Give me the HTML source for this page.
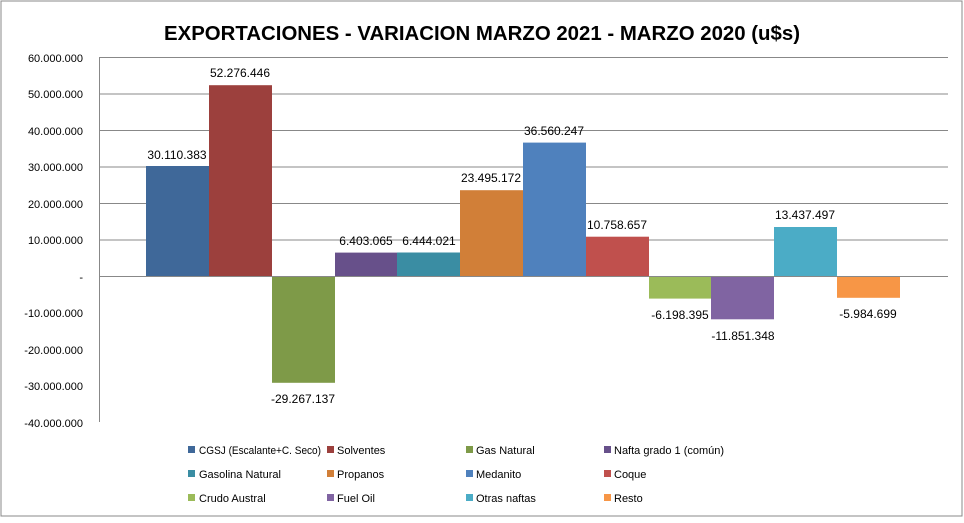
<!DOCTYPE html>
<html><head><meta charset="utf-8"><style>
body{margin:0;background:#fff;}
text{font-family:"Liberation Sans",sans-serif;}
</style></head><body>
<svg width="964" height="518" xmlns="http://www.w3.org/2000/svg">
<rect x="1" y="1" width="961" height="515" fill="#fff" stroke="#888" stroke-width="1"/>
<text x="482" y="40" text-anchor="middle" font-size="20" font-weight="bold" fill="#000" textLength="636" lengthAdjust="spacingAndGlyphs">EXPORTACIONES - VARIACION MARZO 2021 - MARZO 2020 (u$s)</text>
<g stroke="#888" stroke-width="1">
<line x1="99.5" y1="57.5" x2="948" y2="57.5"/>
<line x1="99.5" y1="94" x2="948" y2="94"/>
<line x1="99.5" y1="130.5" x2="948" y2="130.5"/>
<line x1="99.5" y1="167" x2="948" y2="167"/>
<line x1="99.5" y1="203.5" x2="948" y2="203.5"/>
<line x1="99.5" y1="240" x2="948" y2="240"/>
<line x1="99.5" y1="57" x2="99.5" y2="422"/>
</g>
<g font-size="11" fill="#000" text-anchor="end">
<text x="83" y="62">60.000.000</text>
<text x="83" y="98">50.000.000</text>
<text x="83" y="135">40.000.000</text>
<text x="83" y="171">30.000.000</text>
<text x="83" y="208">20.000.000</text>
<text x="83" y="244">10.000.000</text>
<text x="83" y="281">-</text>
<text x="83" y="317">-10.000.000</text>
<text x="83" y="354">-20.000.000</text>
<text x="83" y="390">-30.000.000</text>
<text x="83" y="427">-40.000.000</text>
</g>
<g>
<rect x="146" y="166" width="63" height="110" fill="#3f6899"/>
<rect x="209" y="85.2" width="63" height="190.8" fill="#9c403d"/>
<rect x="272" y="276" width="63" height="106.8" fill="#7e9a48"/>
<rect x="335" y="252.6" width="62" height="23.4" fill="#67508a"/>
<rect x="397" y="252.5" width="63" height="23.5" fill="#3a8da3"/>
<rect x="460" y="190.2" width="63" height="85.8" fill="#d17f38"/>
<rect x="523" y="142.6" width="63" height="133.4" fill="#4f81bd"/>
<rect x="586" y="236.7" width="63" height="39.3" fill="#c0504d"/>
<rect x="649" y="276" width="62" height="22.6" fill="#9bbb59"/>
<rect x="711" y="276" width="63" height="43.3" fill="#8064a2"/>
<rect x="774" y="227" width="63" height="49" fill="#4bacc6"/>
<rect x="837" y="276" width="63" height="21.8" fill="#f79646"/>
</g>
<line x1="99.5" y1="276.5" x2="948" y2="276.5" stroke="#888" stroke-width="1"/>
<g font-size="12" fill="#000" text-anchor="middle">
<text x="177" y="159">30.110.383</text>
<text x="240" y="77">52.276.446</text>
<text x="303" y="403">-29.267.137</text>
<text x="366" y="245">6.403.065</text>
<text x="429" y="245">6.444.021</text>
<text x="491" y="182">23.495.172</text>
<text x="554" y="135">36.560.247</text>
<text x="617" y="229">10.758.657</text>
<text x="680" y="319">-6.198.395</text>
<text x="743" y="340">-11.851.348</text>
<text x="805" y="219">13.437.497</text>
<text x="868" y="318">-5.984.699</text>
</g>
<g font-size="11" fill="#000">
<rect x="188" y="446" width="7" height="7" fill="#3f6899"/><text x="199" y="454" textLength="122" lengthAdjust="spacingAndGlyphs">CGSJ (Escalante+C. Seco)</text>
<rect x="327" y="446" width="7" height="7" fill="#9c403d"/><text x="337" y="454">Solventes</text>
<rect x="466" y="446" width="7" height="7" fill="#7e9a48"/><text x="476" y="454">Gas Natural</text>
<rect x="604" y="446" width="7" height="7" fill="#67508a"/><text x="614" y="454">Nafta grado 1 (común)</text>
<rect x="188" y="470" width="7" height="7" fill="#3a8da3"/><text x="199" y="478">Gasolina Natural</text>
<rect x="327" y="470" width="7" height="7" fill="#d17f38"/><text x="337" y="478">Propanos</text>
<rect x="466" y="470" width="7" height="7" fill="#4f81bd"/><text x="476" y="478">Medanito</text>
<rect x="604" y="470" width="7" height="7" fill="#c0504d"/><text x="614" y="478">Coque</text>
<rect x="188" y="494" width="7" height="7" fill="#9bbb59"/><text x="199" y="502">Crudo Austral</text>
<rect x="327" y="494" width="7" height="7" fill="#8064a2"/><text x="337" y="502">Fuel Oil</text>
<rect x="466" y="494" width="7" height="7" fill="#4bacc6"/><text x="476" y="502">Otras naftas</text>
<rect x="604" y="494" width="7" height="7" fill="#f79646"/><text x="614" y="502">Resto</text>
</g>
</svg>
</body></html>
